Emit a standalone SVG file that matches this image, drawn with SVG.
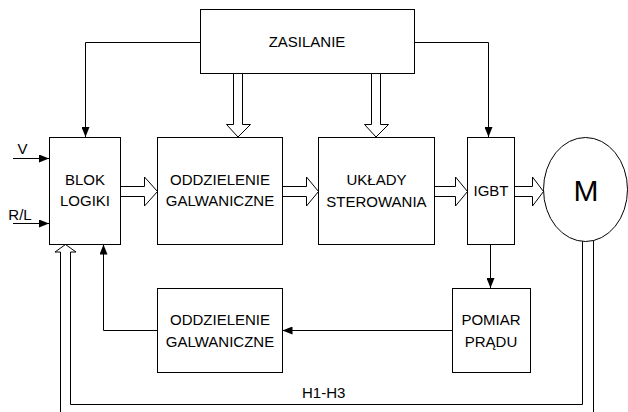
<svg xmlns="http://www.w3.org/2000/svg" width="628" height="412" viewBox="0 0 628 412">
<style>
.box{fill:#fff;stroke:#000;stroke-width:1}
.ln{fill:none;stroke:#000;stroke-width:1}
.hol{fill:#fff;stroke:#000;stroke-width:1}
text{font-family:"Liberation Sans",Arial,sans-serif;font-size:15px;fill:#000;text-anchor:middle}
</style>
<defs>
<marker id="ah" markerUnits="userSpaceOnUse" markerWidth="10" markerHeight="8" refX="10" refY="4" orient="auto">
<path d="M0,0 L10,4 L0,8 z" fill="#000"/>
</marker>
</defs>
<rect width="628" height="412" fill="#fff"/>
<g id="connectors">
<path class="ln" d="M200.5,42.5 H85.5 V137" marker-end="url(#ah)"/>
<path class="ln" d="M414.5,42.5 H488.5 V137" marker-end="url(#ah)"/>
<path class="ln" d="M490.5,244.5 V288" marker-end="url(#ah)"/>
<path class="ln" d="M452.5,330.5 H282.5" marker-end="url(#ah)"/>
<path class="ln" d="M157.5,330.5 H103.5 V244.5" marker-end="url(#ah)"/>
<path class="ln" d="M13,158.5 H49" marker-end="url(#ah)"/>
<path class="ln" d="M13,223.5 H49" marker-end="url(#ah)"/>
<polygon class="hol" points="233.5,73.5 233.5,124.5 226.5,124.5 238,137 250.5,124.5 242.5,124.5 242.5,73.5"/>
<polygon class="hol" points="371.5,73.5 371.5,124.5 364.5,124.5 376,137 388.5,124.5 380.5,124.5 380.5,73.5"/>
<polygon class="hol" points="120.5,186.5 144.5,186.5 144.5,177 157.5,191.5 144.5,206 144.5,196.5 120.5,196.5"/>
<polygon class="hol" points="282.5,186.5 306.5,186.5 306.5,177 318.5,191.5 306.5,206 306.5,196.5 282.5,196.5"/>
<polygon class="hol" points="434.5,186.5 455.5,186.5 455.5,177 467.5,191.5 455.5,206 455.5,196.5 434.5,196.5"/>
<polygon class="hol" points="514.5,186.5 532.5,186.5 532.5,177 543.5,191.5 532.5,206 532.5,196.5 514.5,196.5"/>
<polyline class="ln" points="60.5,412 60.5,252 55,252 65.5,244.5 76,252 70.5,252 70.5,404.5 582.5,404.5 582.5,236"/>
<line class="ln" x1="593.5" y1="236" x2="593.5" y2="412"/>
<text x="302" y="398" style="text-anchor:start">H1-H3</text>
<text x="22.5" y="154">V</text>
<text x="20" y="220">R/L</text>
</g>
<g id="zasilanie">
<rect class="box" x="200.5" y="9.5" width="214" height="64"/>
<text x="307" y="47">ZASILANIE</text>
</g>
<g id="blok">
<rect class="box" x="49.5" y="137.5" width="71" height="107"/>
<text x="85" y="185">BLOK</text>
<text x="85" y="206">LOGIKI</text>
</g>
<g id="oddz1">
<rect class="box" x="157.5" y="137.5" width="125" height="107"/>
<text x="220" y="185">ODDZIELENIE</text>
<text x="220" y="206">GALWANICZNE</text>
</g>
<g id="uklady">
<rect class="box" x="318.5" y="137.5" width="116" height="107"/>
<text x="376.5" y="185">UKŁADY</text>
<text x="376.5" y="207">STEROWANIA</text>
</g>
<g id="igbt">
<rect class="box" x="467.5" y="137.5" width="47" height="107"/>
<text x="491" y="196">IGBT</text>
</g>
<g id="motor">
<ellipse class="box" cx="585.5" cy="189.5" rx="42" ry="52"/>
<text x="586" y="201" style="font-size:30px">M</text>
</g>
<g id="pomiar">
<rect class="box" x="452.5" y="288.5" width="78" height="84"/>
<text x="491" y="325">POMIAR</text>
<text x="491" y="347">PRĄDU</text>
</g>
<g id="oddz2">
<rect class="box" x="157.5" y="288.5" width="125" height="84"/>
<text x="220" y="325">ODDZIELENIE</text>
<text x="220" y="347">GALWANICZNE</text>
</g>
</svg>
